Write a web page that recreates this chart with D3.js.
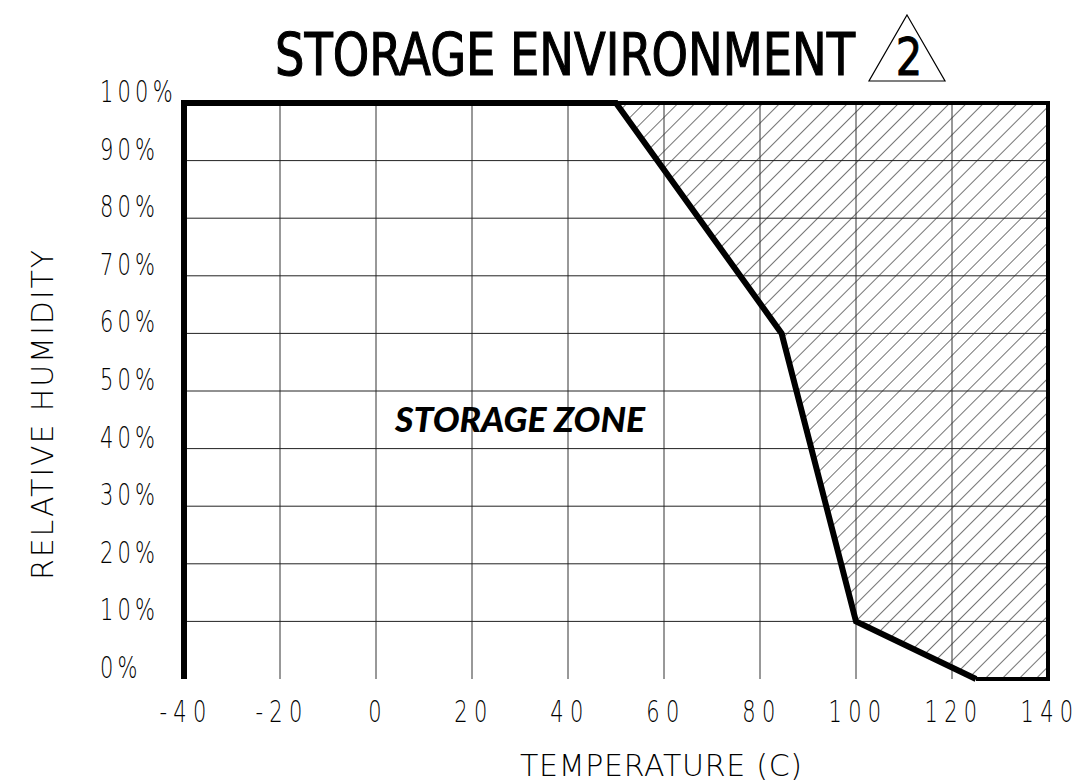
<!DOCTYPE html>
<html>
<head>
<meta charset="utf-8">
<script src="https://cdn.jsdelivr.net/npm/d3@7"></script>
<style>
  body { margin: 0; background: #fff; }
  .tick-label { font-family: "DejaVu Sans", sans-serif; font-size: 30px; font-weight: 300; fill: #000; }
</style>
</head>
<body>
<script>
// storage environment chart: temperature vs relative humidity

var tempTicks = [-40, -20, 0, 20, 40, 60, 80, 100, 120, 140];
var rhTicks = [0, 10, 20, 30, 40, 50, 60, 70, 80, 90, 100];

// limit of the storage zone (temp C, RH %)
var limitTemp = [-40, -40, 50, 84.5, 100, 125];
var limitRH   = [0, 100, 100, 60, 10, 0];

// hatched (not allowed) region
var hatchTemp = [50, 84.5, 100, 125, 140, 140];
var hatchRH   = [100, 60, 10, 0, 0, 100];

var width = 1079,
    height = 784,
    squeeze = 0.7;   // narrow CAD-like lettering

var svg = d3.select("body")
  .append("svg")
    .attr("width", width)
    .attr("height", height);

var x = d3.scaleLinear()
    .domain([-40, 140])
    .range([184, 1048]);

var y = d3.scaleLinear()
    .domain([0, 100])
    .range([679, 103]);

var defs = svg.append("defs");
defs.append("pattern")
    .attr("id", "hatch")
    .attr("patternUnits", "userSpaceOnUse")
    .attr("width", 12)
    .attr("height", 12)
    .attr("patternTransform", "rotate(45)")
  .append("line")
    .attr("x1", 0).attr("y1", 0)
    .attr("x2", 0).attr("y2", 12)
    .attr("stroke", "#000")
    .attr("stroke-width", 1.1);

var line = d3.line()
    .x(function(d) { return x(d[0]); })
    .y(function(d) { return y(d[1]); });

// hatch fill
svg.append("path")
    .datum(hatchTemp.map(function(t, i) { return [t, hatchRH[i]]; }))
    .attr("d", function(d) { return line(d) + "Z"; })
    .attr("fill", "url(#hatch)");

// grid
svg.append("g")
  .selectAll("line")
  .data(tempTicks.slice(1, -1))
  .enter().append("line")
    .attr("x1", function(d) { return x(d); })
    .attr("x2", function(d) { return x(d); })
    .attr("y1", y(0))
    .attr("y2", y(100))
    .attr("stroke", "#333")
    .attr("stroke-width", 1);

svg.append("g")
  .selectAll("line")
  .data(rhTicks.slice(1, -1))
  .enter().append("line")
    .attr("x1", x(-40))
    .attr("x2", x(140))
    .attr("y1", function(d) { return y(d); })
    .attr("y2", function(d) { return y(d); })
    .attr("stroke", "#222")
    .attr("stroke-width", 1);

// outer frame (right side)
svg.append("path")
    .datum([[125, 0], [140, 0], [140, 100], [50, 100]])
    .attr("d", line)
    .attr("fill", "none")
    .attr("stroke", "#000")
    .attr("stroke-width", 4);

// storage limit
svg.append("path")
    .datum(limitTemp.map(function(t, i) { return [t, limitRH[i]]; }))
    .attr("d", line)
    .attr("fill", "none")
    .attr("stroke", "#000")
    .attr("stroke-width", 6)
    .attr("stroke-linejoin", "miter");

// tick labels
svg.append("g")
  .selectAll("text")
  .data(tempTicks)
  .enter().append("text")
    .attr("class", "tick-label")
    .attr("transform", function(d) { return "translate(" + (x(d) + 2) + ",722) scale(" + squeeze + ",1)"; })
    .attr("text-anchor", "middle")
    .attr("letter-spacing", 9)
    .text(function(d) { return d < 0 ? "-" + Math.abs(d) : d; });

svg.append("g")
  .selectAll("text")
  .data(rhTicks)
  .enter().append("text")
    .attr("class", "tick-label")
    .attr("transform", function(d) { return "translate(100," + (y(d) - 1) + ") scale(" + squeeze + ",1)"; })
    .attr("text-anchor", "start")
    .attr("letter-spacing", 6)
    .text(function(d) { return d + "%"; });

// axis titles
svg.append("text")
    .attr("class", "tick-label")
    .attr("x", 520)
    .attr("y", 776)
    .attr("font-size", 34)
    .attr("textLength", 282)
    .attr("lengthAdjust", "spacing")
    .text("TEMPERATURE (C)");

svg.append("text")
    .attr("class", "tick-label")
    .attr("transform", "translate(53,580) rotate(-90)")
    .attr("font-size", 31)
    .attr("textLength", 330)
    .attr("lengthAdjust", "spacing")
    .text("RELATIVE HUMIDITY");

// title
svg.append("text")
    .attr("x", 275)
    .attr("y", 75)
    .attr("font-family", "'DejaVu Sans Condensed', 'DejaVu Sans', sans-serif")
    .attr("font-size", 58)
    .attr("stroke", "#000")
    .attr("stroke-width", 1.1)
    .attr("textLength", 580)
    .attr("lengthAdjust", "spacingAndGlyphs")
    .text("STORAGE  ENVIRONMENT");

svg.append("path")
    .attr("d", d3.line()([[907, 15], [945, 81], [869, 81]]) + "Z")
    .attr("fill", "none")
    .attr("stroke", "#000")
    .attr("stroke-width", 1.2);

svg.append("text")
    .attr("transform", "translate(909,75) scale(0.8,1)")
    .attr("text-anchor", "middle")
    .attr("font-family", "'DejaVu Sans', sans-serif")
    .attr("font-size", 52)
    .attr("stroke", "#000")
    .attr("stroke-width", 1)
    .text("2");

// zone label
svg.append("text")
    .attr("x", 395)
    .attr("y", 432)
    .attr("font-family", "Lato, 'Open Sans', sans-serif")
    .attr("font-weight", 900)
    .attr("font-style", "italic")
    .attr("font-size", 34)
    .attr("textLength", 250)
    .attr("lengthAdjust", "spacingAndGlyphs")
    .text("STORAGE ZONE");
</script>
</body>
</html>
